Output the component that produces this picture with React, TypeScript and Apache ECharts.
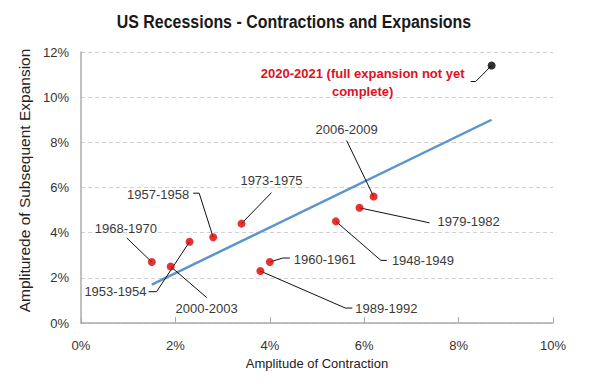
import React, { useEffect, useRef } from "react";
import * as echarts from "echarts";

// ---- Data ----
const periods = [
  "1948-1949", "1953-1954", "1957-1958", "1960-1961", "1968-1970",
  "1973-1975", "1979-1982", "1989-1992", "2000-2003", "2006-2009",
];
const contraction = [5.4, 2.3, 2.8, 4.0, 1.5, 3.4, 5.9, 3.8, 1.9, 6.2];
const expansion = [4.5, 3.6, 3.8, 2.7, 2.7, 4.4, 5.1, 2.3, 2.5, 5.6];

const currentPeriod = "2020-2021 (full expansion not yet\ncomplete)";
const currentContraction = [8.7];
const currentExpansion = [11.4];

const trendX = [1.5, 8.7];
const trendY = [1.7, 9.0];

const xTicks = [0, 2, 4, 6, 8, 10];
const yTicks = [0, 2, 4, 6, 8, 10, 12];

// ---- Label layout (pixel offsets from each point) ----
type Layout = { tx: number; ty: number; align: string; line: number[][] };
const labelLayouts: Layout[] = [
  { tx: 56, ty: 39, align: "left", line: [[0, 0], [45, 39], [51, 39]] },
  { tx: -43, ty: 50, align: "right", line: [[0, 0], [-33, 50], [-41, 50]] },
  { tx: -24, ty: -43, align: "right", line: [[0, 0], [-14, -44], [-20, -44]] },
  { tx: 24, ty: -3, align: "left", line: [[0, 0], [13, -4], [20, -4]] },
  { tx: -26, ty: -34, align: "center", line: [[0, 0], [-25, -24]] },
  { tx: 30, ty: -43, align: "center", line: [[0, 0], [30, -31]] },
  { tx: 78, ty: 14, align: "left", line: [[0, 0], [70, 15]] },
  { tx: 95, ty: 37, align: "left", line: [[0, 0], [85, 37], [92, 37]] },
  { tx: 36, ty: 42, align: "center", line: [[0, 0], [36, 31]] },
  { tx: -27, ty: -67, align: "center", line: [[0, 0], [-27, -56]] },
];
const currentLayout: Layout = { tx: -129, ty: 17, align: "center", line: [[0, 0], [-16, 16], [-21, 16]] };

const FONT = "'Liberation Sans', Arial, sans-serif";

export default function App() {
  const ref = useRef<HTMLDivElement>(null);
  useEffect(() => {
    document.body.style.margin = "0";
    if (!ref.current) return;
    const chart = echarts.init(ref.current, null, { renderer: "svg" });

    const labelSeries = (
      xs: number[], ys: number[], names: string[], layouts: Layout[],
      color: string, bold: boolean
    ) => ({
      type: "custom",
      silent: true,
      z: 5,
      data: xs.map((x, i) => [x, ys[i], i]),
      renderItem: (params: any, api: any) => {
        const i = params.dataIndex;
        const pt = api.coord([api.value(0), api.value(1)]);
        const L = layouts[i];
        return {
          type: "group",
          children: [
            {
              type: "polyline",
              shape: { points: L.line.map(([dx, dy]) => [pt[0] + dx, pt[1] + dy]) },
              style: { stroke: "#111", lineWidth: 1, fill: null },
            },
            {
              type: "text",
              x: pt[0] + L.tx,
              y: pt[1] + L.ty,
              style: {
                text: names[i],
                fill: color,
                fontSize: 13,
                fontWeight: bold ? "bold" : "normal",
                fontFamily: FONT,
                align: L.align,
                verticalAlign: "middle",
                lineHeight: 18,
              },
            },
          ],
        };
      },
    });

    chart.setOption({
      animation: false,
      backgroundColor: "#ffffff",
      graphic: [
        {
          type: "text",
          x: 294,
          y: 22,
          scaleX: 0.84,
          style: {
            text: "US Recessions - Contractions and Expansions",
            fontSize: 19,
            fontWeight: "bold",
            fontFamily: FONT,
            fill: "#1a1a1a",
            align: "center",
            verticalAlign: "middle",
          },
        },
      ],
      grid: { left: 81, right: 46, top: 52, bottom: 69, containLabel: false },
      xAxis: {
        type: "value",
        min: xTicks[0],
        max: xTicks[xTicks.length - 1],
        interval: 2,
        name: "Amplitude of Contraction",
        nameLocation: "middle",
        nameGap: 33,
        nameTextStyle: { fontSize: 13, color: "#222", fontFamily: FONT },
        axisLine: { show: true, lineStyle: { color: "#ababab", width: 1.5 } },
        axisTick: { show: true, inside: true, length: 6, lineStyle: { color: "#ababab", width: 1 } },
        axisLabel: { formatter: "{value}%", fontSize: 13, color: "#333", fontFamily: FONT, margin: 16 },
        splitLine: { show: false },
      },
      yAxis: {
        type: "value",
        min: yTicks[0],
        max: yTicks[yTicks.length - 1],
        interval: 2,
        name: "Ampliturede of Subsequent Expansion",
        nameLocation: "middle",
        nameGap: 41,
        nameTextStyle: { fontSize: 15.5, color: "#222", fontFamily: FONT, padding: [0, 0, 0, 14] },
        axisLine: { show: true, lineStyle: { color: "#ababab", width: 1.5 } },
        axisTick: { show: false },
        axisLabel: { formatter: "{value}%", fontSize: 13, color: "#333", fontFamily: FONT, margin: 12 },
        splitLine: { show: true, lineStyle: { color: "#d2d2d2", type: [4, 3], width: 1 } },
      },
      series: [
        {
          type: "line",
          data: trendX.map((x, i) => [x, trendY[i]]),
          symbol: "none",
          lineStyle: { color: "#5b95c9", width: 2.5 },
          z: 2,
          silent: true,
        },
        labelSeries(contraction, expansion, periods, labelLayouts, "#3a3a3a", false),
        labelSeries(currentContraction, currentExpansion, [currentPeriod], [currentLayout], "#e0101e", true),
        {
          type: "scatter",
          data: contraction.map((x, i) => [x, expansion[i]]),
          symbolSize: 8,
          itemStyle: { color: "#dd0000" },
          z: 10,
        },
        {
          type: "scatter",
          data: currentContraction.map((x, i) => [x, currentExpansion[i]]),
          symbolSize: 8,
          itemStyle: { color: "#000000" },
          z: 10,
        },
      ],
    });
    return () => chart.dispose();
  }, []);
  return <div ref={ref} style={{ width: 599, height: 392 }} />;
}
